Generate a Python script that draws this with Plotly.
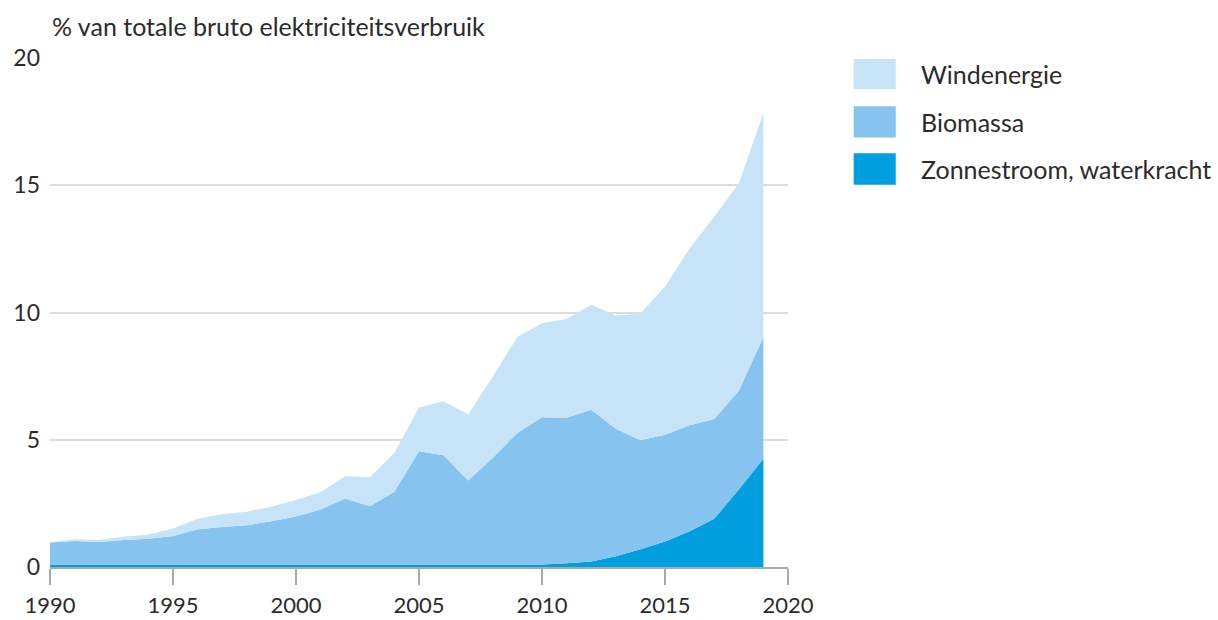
import plotly.graph_objects as go

years = list(range(1990, 2020))
zon = [0.10]*21 + [0.15, 0.22, 0.42, 0.70, 1.00, 1.40, 1.90, 3.05, 4.25]
biomassa = [0.86, 0.92, 0.88, 0.96, 1.01, 1.12, 1.38, 1.47, 1.54, 1.70,
            1.88, 2.16, 2.59, 2.29, 2.86, 4.45, 4.29, 3.30, 4.19, 5.17,
            5.78, 5.71, 5.96, 5.01, 4.28, 4.20, 4.17, 3.92, 3.88, 4.79]
wind = [0.02, 0.07, 0.08, 0.13, 0.17, 0.29, 0.42, 0.50, 0.53, 0.57,
        0.65, 0.68, 0.88, 1.14, 1.53, 1.72, 2.12, 2.59, 3.20, 3.77,
        3.70, 3.88, 4.12, 4.45, 4.97, 5.82, 6.95, 7.94, 8.14, 8.80]

series_names = ["Windenergie", "Biomassa", "Zonnestroom, waterkracht"]
colors = {"Windenergie": "#c7e3f7", "Biomassa": "#86c3ee", "Zonnestroom, waterkracht": "#009fdf"}
x_ticks = [1990, 1995, 2000, 2005, 2010, 2015, 2020]
y_ticks = [0, 5, 10, 15, 20]
title_text = "% van totale bruto elektriciteitsverbruik"

FONT = "Lato"
TXT = "#2b2b2b"

fig = go.Figure()
for name, vals in [("Zonnestroom, waterkracht", zon), ("Biomassa", biomassa), ("Windenergie", wind)]:
    fig.add_trace(go.Scatter(x=years, y=vals, name=name, stackgroup="one",
                             mode="none", fillcolor=colors[name], showlegend=False))

# custom legend
leg_rows = [(0.969, 0.998, 0.939), (0.875, 0.905, 0.844), (0.782, 0.813, 0.751)]
for name, (ym, y1, y0) in zip(series_names, leg_rows):
    fig.add_shape(type="rect", xref="paper", yref="paper", x0=1.089, x1=1.146,
                  y0=y0, y1=y1, fillcolor=colors[name], line=dict(width=0))
    fig.add_annotation(xref="paper", yref="paper", x=1.178, y=ym, text=name,
                       showarrow=False, xanchor="left", yanchor="middle",
                       font=dict(family=FONT, size=25, color=TXT))

fig.add_annotation(xref="paper", yref="paper", x=0, y=1.0635, text=title_text,
                   showarrow=False, xanchor="left", yanchor="middle",
                   font=dict(family=FONT, size=25, color=TXT))

fig.update_layout(
    width=1218, height=620,
    margin=dict(l=50, r=430, t=58, b=53),
    paper_bgcolor="white", plot_bgcolor="white",
    font=dict(family=FONT, size=23, color=TXT),
    xaxis=dict(range=[1990, 2020], tickvals=x_ticks, showgrid=False, zeroline=False,
               showline=True, linecolor="#a8a8a8", linewidth=2, automargin=False,
               ticks="outside", ticklen=16, tickwidth=2, tickcolor="#a8a8a8",
               ticklabelstandoff=2, tickfont=dict(family=FONT, size=22, color=TXT)),
    yaxis=dict(range=[0, 20], tickvals=y_ticks, showgrid=True, gridcolor="#dcdcdc",
               gridwidth=2, zeroline=False, showline=False, ticks="", automargin=False,
               ticklabelstandoff=9, tickfont=dict(family=FONT, size=23, color=TXT)),
    showlegend=False,
)

fig.write_html("out.html", config={"displayModeBar": False},
               post_script="document.body.style.margin='0';document.body.style.overflow='hidden';")
